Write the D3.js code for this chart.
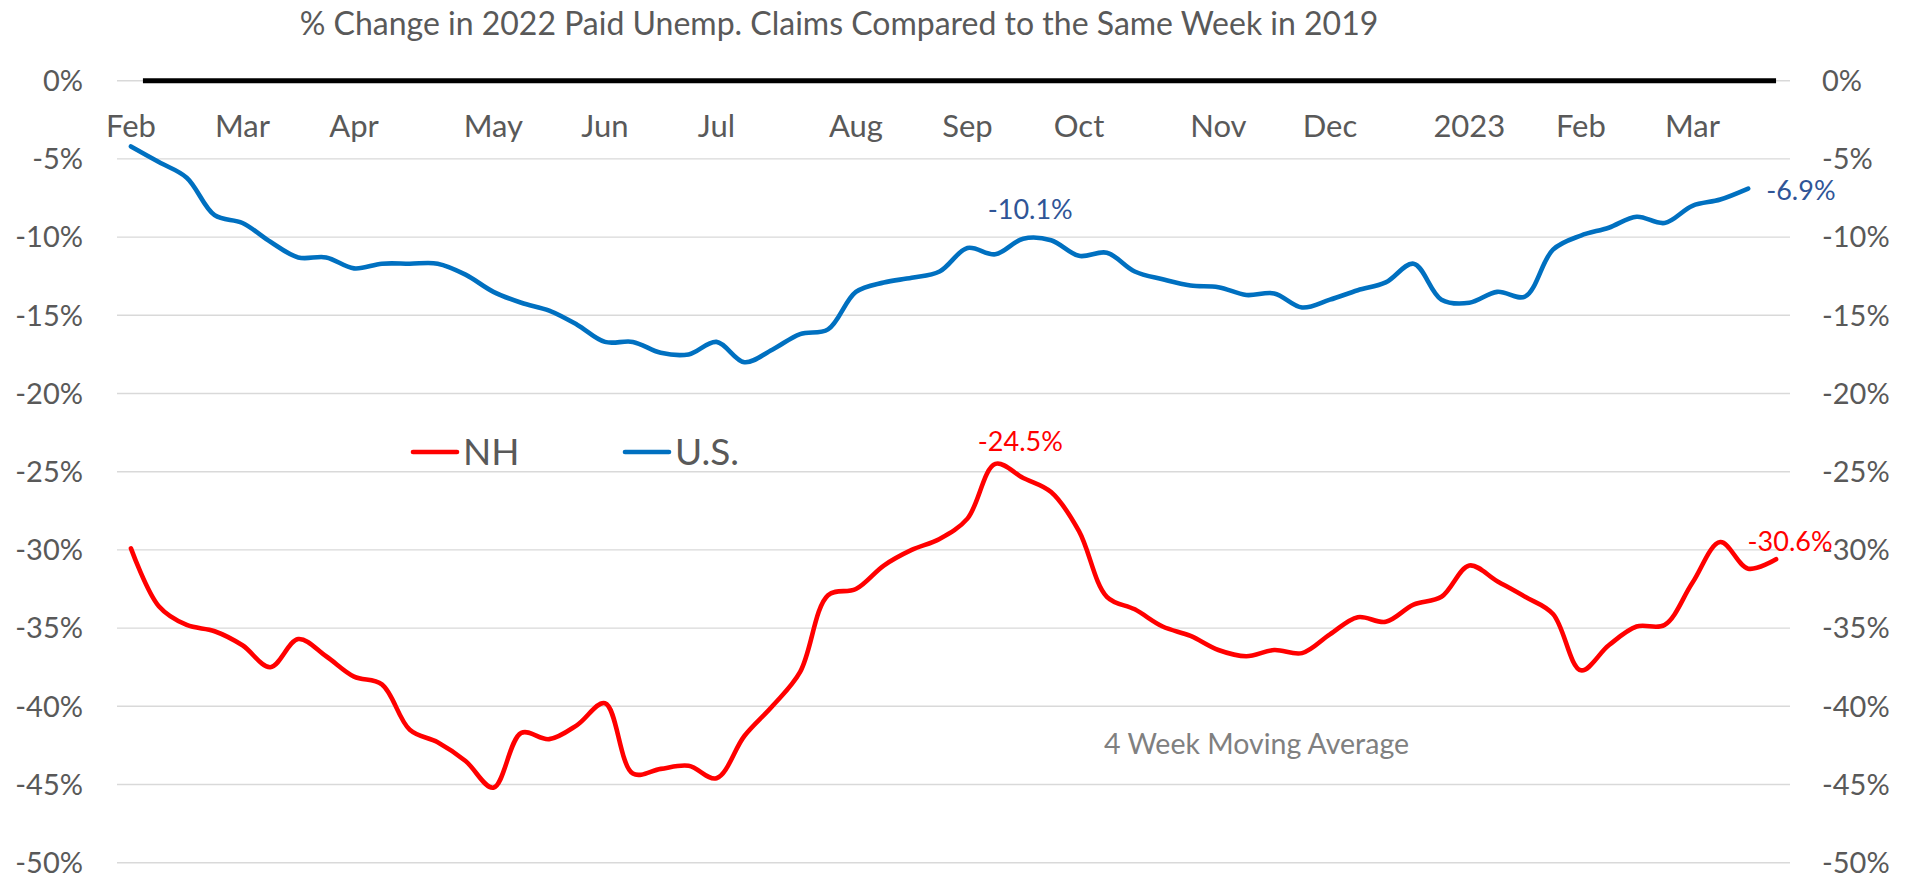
<!DOCTYPE html>
<html>
<head>
<meta charset="utf-8">
<script src="https://cdn.jsdelivr.net/npm/d3@7"></script>
<style>
  html, body { margin: 0; padding: 0; background: #ffffff; }
  svg { display: block; }
  text { font-family: Lato, "Open Sans", "Noto Sans", sans-serif; }
</style>
</head>
<body>
<svg id="chart" width="1912" height="876"></svg>
<script>
// Week-ending dates (Saturdays), Feb 2022 – Mar 2023
const weeks = [
  "2022-02-05","2022-02-12","2022-02-19","2022-02-26","2022-03-05","2022-03-12","2022-03-19","2022-03-26",
  "2022-04-02","2022-04-09","2022-04-16","2022-04-23","2022-04-30","2022-05-07","2022-05-14","2022-05-21",
  "2022-05-28","2022-06-04","2022-06-11","2022-06-18","2022-06-25","2022-07-02","2022-07-09","2022-07-16",
  "2022-07-23","2022-07-30","2022-08-06","2022-08-13","2022-08-20","2022-08-27","2022-09-03","2022-09-10",
  "2022-09-17","2022-09-24","2022-10-01","2022-10-08","2022-10-15","2022-10-22","2022-10-29","2022-11-05",
  "2022-11-12","2022-11-19","2022-11-26","2022-12-03","2022-12-10","2022-12-17","2022-12-24","2022-12-31",
  "2023-01-07","2023-01-14","2023-01-21","2023-01-28","2023-02-04","2023-02-11","2023-02-18","2023-02-25",
  "2023-03-04","2023-03-11","2023-03-18","2023-03-25"
];

// 4-week moving average, % change vs. same week of 2019
const nhValues = [
  -29.9, -33.6, -34.8, -35.2, -36.1, -37.5, -35.7, -36.8, -38.1, -38.6,
  -41.5, -42.3, -43.5, -45.2, -41.7, -42.1, -41.2, -39.8, -44.3, -44.0,
  -43.8, -44.6, -41.9, -40.0, -37.8, -32.9, -32.5, -31.0, -30.0, -29.3,
  -28.0, -24.5, -25.4, -26.3, -28.8, -33.0, -33.8, -34.9, -35.5, -36.4,
  -36.8, -36.4, -36.6, -35.4, -34.3, -34.6, -33.5, -33.0, -31.0, -32.0,
  -33.0, -34.1, -37.7, -36.1, -34.9, -34.8, -32.1, -29.5, -31.2, -30.6
];
const usValues = [
  -4.2, -5.2, -6.2, -8.6, -9.1, -10.3, -11.3, -11.3, -12.0, -11.7,
  -11.7, -11.7, -12.4, -13.5, -14.2, -14.7, -15.6, -16.7, -16.7, -17.4,
  -17.5, -16.7, -18.0, -17.2, -16.2, -15.9, -13.5, -12.9, -12.6, -12.2,
  -10.7, -11.1, -10.1, -10.2, -11.2, -11.0, -12.2, -12.7, -13.1, -13.2,
  -13.7, -13.6, -14.5, -14.0, -13.4, -12.9, -11.7, -14.0, -14.2, -13.5,
  -13.8, -10.8, -9.9, -9.4, -8.7, -9.1, -8.0, -7.6, -6.9
];

// Category axis labels (first week of each month)
const tickWeeks  = ["2022-02-05","2022-03-05","2022-04-02","2022-05-07","2022-06-04","2022-07-02","2022-08-06",
                    "2022-09-03","2022-10-01","2022-11-05","2022-12-03","2023-01-07","2023-02-04","2023-03-04"];
const tickLabels = ["Feb","Mar","Apr","May","Jun","Jul","Aug","Sep","Oct","Nov","Dec","2023","Feb","Mar"];

// Value axis ticks (percent)
const yTicks = [0, -5, -10, -15, -20, -25, -30, -35, -40, -45, -50];

// Labelled points: series, week, offset of label centre from the point
const pointLabels = [
  { series: "U.S.", week: "2022-09-17", dx: 7,  dy: -29, anchor: "middle" },
  { series: "U.S.", week: "2023-03-18", dx: 18, dy: 2,   anchor: "start" },
  { series: "NH",   week: "2022-09-10", dx: 25, dy: -22, anchor: "middle" },
  { series: "NH",   week: "2023-03-25", dx: 14, dy: -18, anchor: "middle" }
];

const seriesList = [
  { name: "NH",   values: nhValues, color: "#FF0000", labelColor: "#FF0000" },
  { name: "U.S.", values: usValues, color: "#0070C0", labelColor: "#2F5597" }
];

// Number formatting with a plain hyphen for negatives
const locale = d3.formatLocale({ decimal: ".", thousands: ",", grouping: [3], currency: ["$", ""], minus: "-" });
const pct = d => locale.format("d")(d) + "%";
const fmtLabel = v => locale.format(".1f")(v) + "%";

const svg = d3.select("#chart");
const plot = { left: 117, right: 1790, top: 80.7, bottom: 862.7 };

const x = d3.scaleBand().domain(weeks).range([plot.left, plot.right]).padding(0);
const xc = w => x(w) + x.bandwidth() / 2;
const y = d3.scaleLinear().domain([-50, 0]).range([plot.bottom, plot.top]);

const textGray = "#595959";

// Horizontal gridlines
svg.append("g")
  .selectAll("line")
  .data(yTicks)
  .join("line")
  .attr("x1", plot.left).attr("x2", plot.right)
  .attr("y1", d => y(d)).attr("y2", d => y(d))
  .attr("stroke", "#D9D9D9").attr("stroke-width", 1.4);

// Left and right value axes (labels only)
const leftAxis = d3.axisLeft(y).tickValues(yTicks).tickFormat(pct).tickSize(0).tickPadding(34);
const rightAxis = d3.axisRight(y).tickValues(yTicks).tickFormat(pct).tickSize(0).tickPadding(32);

function styleAxis(g) {
  g.select(".domain").remove();
  g.selectAll("text")
    .attr("fill", textGray)
    .attr("dy", "0.34em")
    .style("font-size", "29px")
    .style("font-family", "Lato, 'Open Sans', sans-serif");
}
svg.append("g").attr("transform", `translate(${plot.left},0)`).call(leftAxis).call(styleAxis);
svg.append("g").attr("transform", `translate(${plot.right},0)`).call(rightAxis).call(styleAxis);

// Zero reference line
const zeroStart = x(weeks[0]) + x.bandwidth() * 0.93;
const zeroEnd = xc(weeks[weeks.length - 1]);
svg.append("line")
  .attr("x1", zeroStart).attr("x2", zeroEnd)
  .attr("y1", y(0)).attr("y2", y(0))
  .attr("stroke", "#000000").attr("stroke-width", 5);

// Month labels under the zero line
const tickLookup = new Map(tickWeeks.map((w, i) => [w, tickLabels[i]]));
const monthAxis = d3.axisBottom(x).tickValues(tickWeeks).tickFormat(w => tickLookup.get(w)).tickSize(0).tickPadding(0);
svg.append("g")
  .attr("transform", `translate(0,${y(0) + 34})`)
  .call(monthAxis)
  .call(g => {
    g.select(".domain").remove();
    g.selectAll("text")
      .attr("fill", textGray)
      .attr("dy", "0.72em")
      .style("font-size", "31px")
      .style("font-family", "Lato, 'Open Sans', sans-serif");
  });

// Smoothed series lines
const line = d3.line()
  .x((d, i) => xc(weeks[i]))
  .y(d => y(d))
  .curve(d3.curveCatmullRom.alpha(0.5));

svg.append("g")
  .selectAll("path")
  .data(seriesList)
  .join("path")
  .attr("d", s => line(s.values))
  .attr("fill", "none")
  .attr("stroke", s => s.color)
  .attr("stroke-width", 4.6)
  .attr("stroke-linejoin", "round")
  .attr("stroke-linecap", "round");

// Value labels on selected points
const seriesByName = new Map(seriesList.map(s => [s.name, s]));
svg.append("g")
  .selectAll("text")
  .data(pointLabels)
  .join("text")
  .each(function (p) {
    const s = seriesByName.get(p.series);
    const idx = weeks.indexOf(p.week);
    const v = s.values[idx];
    d3.select(this)
      .attr("x", xc(p.week) + p.dx)
      .attr("y", y(v) + p.dy)
      .attr("dy", "0.35em")
      .attr("text-anchor", p.anchor)
      .attr("fill", s.labelColor)
      .style("font-size", "27px")
      .text(fmtLabel(v));
  });

// Title
svg.append("text")
  .attr("x", 839).attr("y", 35)
  .attr("text-anchor", "middle")
  .attr("fill", textGray)
  .style("font-size", "32px")
  .text("% Change in 2022 Paid Unemp. Claims Compared to the Same Week in 2019");

// Legend
const legendItems = [
  { name: "NH",   color: "#FF0000", x: 413 },
  { name: "U.S.", color: "#0070C0", x: 625 }
];
const legend = svg.append("g").attr("transform", "translate(0,452)");
const li = legend.selectAll("g").data(legendItems).join("g")
  .attr("transform", d => `translate(${d.x},0)`);
li.append("line")
  .attr("x1", 0).attr("x2", 44)
  .attr("y1", 0).attr("y2", 0)
  .attr("stroke", d => d.color).attr("stroke-width", 4.6)
  .attr("stroke-linecap", "round");
li.append("text")
  .attr("x", 50).attr("y", 0)
  .attr("dy", "0.35em")
  .attr("fill", textGray)
  .style("font-size", "37px")
  .text(d => d.name);

// Note
svg.append("text")
  .attr("x", 1104).attr("y", 744)
  .attr("dy", "0.35em")
  .attr("fill", "#808080")
  .style("font-size", "28.5px")
  .text("4 Week Moving Average");
</script>
</body>
</html>
